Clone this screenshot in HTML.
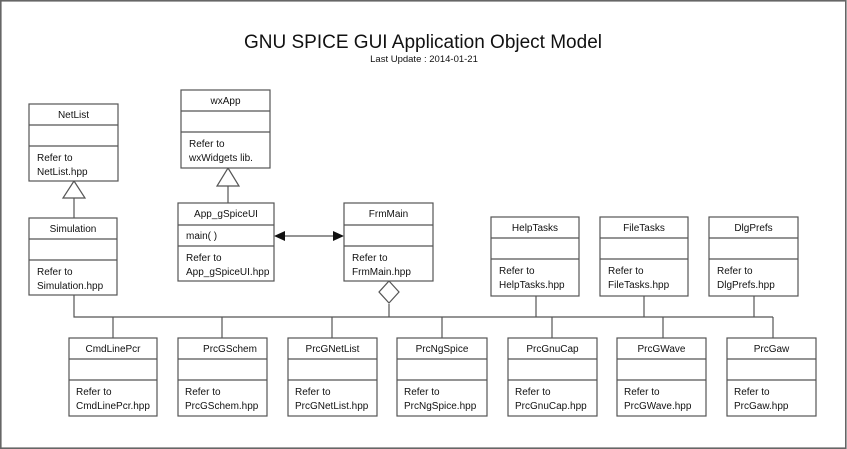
<!DOCTYPE html>
<html><head><meta charset="utf-8"><style>
html,body{margin:0;padding:0;background:#fff;}
svg{display:block;}
text{font-family:"Liberation Sans",sans-serif;font-size:10px;fill:#111;}
.b rect{fill:#fff;stroke:#555;stroke-width:1.2;}
.b line,.c{stroke:#555;stroke-width:1.2;fill:none;}
</style></head><body>
<svg width="847" height="449" viewBox="0 0 847 449" xmlns="http://www.w3.org/2000/svg">
<rect x="0.8" y="0.8" width="845" height="447.4" fill="#fff" stroke="#666" stroke-width="1.6"/>
<text x="423" y="48" text-anchor="middle" style="font-size:19px">GNU SPICE GUI Application Object Model</text>
<text x="424" y="62" text-anchor="middle" style="font-size:9.5px">Last Update : 2014-01-21</text>

<polyline class="c" points="74,295 74,317 773,317"/>
<line class="c" x1="389" y1="304" x2="389" y2="317"/>
<line class="c" x1="536" y1="296" x2="536" y2="317"/>
<line class="c" x1="644" y1="296" x2="644" y2="317"/>
<line class="c" x1="754" y1="296" x2="754" y2="317"/>
<line class="c" x1="113" y1="317" x2="113" y2="338"/>
<line class="c" x1="222" y1="317" x2="222" y2="338"/>
<line class="c" x1="332" y1="317" x2="332" y2="338"/>
<line class="c" x1="442" y1="317" x2="442" y2="338"/>
<line class="c" x1="552" y1="317" x2="552" y2="338"/>
<line class="c" x1="663" y1="317" x2="663" y2="338"/>
<line class="c" x1="773" y1="317" x2="773" y2="338"/>
<polygon class="c" points="389,281 399,292 389,303 379,292" fill="#fff"/>
<line class="c" x1="74" y1="198" x2="74" y2="218"/>
<polygon class="c" points="74,181 85,198 63,198" fill="#fff"/>
<line class="c" x1="228" y1="186" x2="228" y2="203"/>
<polygon class="c" points="228,168 239,186 217,186" fill="#fff"/>
<line class="c" x1="280" y1="236" x2="338" y2="236"/>
<polygon points="274,236 285,231 285,241" fill="#111"/>
<polygon points="344,236 333,231 333,241" fill="#111"/>

<g class="b" transform="translate(29,104)"><rect width="89" height="77"/><line x1="0" y1="21" x2="89" y2="21"/><line x1="0" y1="42" x2="89" y2="42"/><text x="44.5" y="14" text-anchor="middle">NetList</text><text x="8" y="57">Refer to</text><text x="8" y="71">NetList.hpp</text></g>
<g class="b" transform="translate(181,90)"><rect width="89" height="78"/><line x1="0" y1="21" x2="89" y2="21"/><line x1="0" y1="42" x2="89" y2="42"/><text x="44.5" y="14" text-anchor="middle">wxApp</text><text x="8" y="57">Refer to</text><text x="8" y="71">wxWidgets lib.</text></g>
<g class="b" transform="translate(29,218)"><rect width="88" height="77"/><line x1="0" y1="21" x2="88" y2="21"/><line x1="0" y1="42" x2="88" y2="42"/><text x="44" y="14" text-anchor="middle">Simulation</text><text x="8" y="57">Refer to</text><text x="8" y="71">Simulation.hpp</text></g>
<g class="b" transform="translate(178,203)"><rect width="96" height="78"/><line x1="0" y1="22" x2="96" y2="22"/><line x1="0" y1="43" x2="96" y2="43"/><text x="48" y="14" text-anchor="middle">App_gSpiceUI</text><text x="8" y="36">main( )</text><text x="8" y="58">Refer to</text><text x="8" y="72">App_gSpiceUI.hpp</text></g>
<g class="b" transform="translate(344,203)"><rect width="89" height="78"/><line x1="0" y1="22" x2="89" y2="22"/><line x1="0" y1="43" x2="89" y2="43"/><text x="44.5" y="14" text-anchor="middle">FrmMain</text><text x="8" y="58">Refer to</text><text x="8" y="72">FrmMain.hpp</text></g>
<g class="b" transform="translate(491,217)"><rect width="88" height="79"/><line x1="0" y1="21" x2="88" y2="21"/><line x1="0" y1="42" x2="88" y2="42"/><text x="44" y="14" text-anchor="middle">HelpTasks</text><text x="8" y="57">Refer to</text><text x="8" y="71">HelpTasks.hpp</text></g>
<g class="b" transform="translate(600,217)"><rect width="88" height="79"/><line x1="0" y1="21" x2="88" y2="21"/><line x1="0" y1="42" x2="88" y2="42"/><text x="44" y="14" text-anchor="middle">FileTasks</text><text x="8" y="57">Refer to</text><text x="8" y="71">FileTasks.hpp</text></g>
<g class="b" transform="translate(709,217)"><rect width="89" height="79"/><line x1="0" y1="21" x2="89" y2="21"/><line x1="0" y1="42" x2="89" y2="42"/><text x="44.5" y="14" text-anchor="middle">DlgPrefs</text><text x="8" y="57">Refer to</text><text x="8" y="71">DlgPrefs.hpp</text></g>

<g class="b" transform="translate(69,338)"><rect width="88" height="78"/><line x1="0" y1="21" x2="88" y2="21"/><line x1="0" y1="42" x2="88" y2="42"/><text x="44" y="14" text-anchor="middle">CmdLinePcr</text><text x="7" y="57">Refer to</text><text x="7" y="71">CmdLinePcr.hpp</text></g>
<g class="b" transform="translate(178,338)"><rect width="89" height="78"/><line x1="0" y1="21" x2="89" y2="21"/><line x1="0" y1="42" x2="89" y2="42"/><text x="52" y="14" text-anchor="middle">PrcGSchem</text><text x="7" y="57">Refer to</text><text x="7" y="71">PrcGSchem.hpp</text></g>
<g class="b" transform="translate(288,338)"><rect width="89" height="78"/><line x1="0" y1="21" x2="89" y2="21"/><line x1="0" y1="42" x2="89" y2="42"/><text x="44.5" y="14" text-anchor="middle">PrcGNetList</text><text x="7" y="57">Refer to</text><text x="7" y="71">PrcGNetList.hpp</text></g>
<g class="b" transform="translate(397,338)"><rect width="90" height="78"/><line x1="0" y1="21" x2="90" y2="21"/><line x1="0" y1="42" x2="90" y2="42"/><text x="45" y="14" text-anchor="middle">PrcNgSpice</text><text x="7" y="57">Refer to</text><text x="7" y="71">PrcNgSpice.hpp</text></g>
<g class="b" transform="translate(508,338)"><rect width="89" height="78"/><line x1="0" y1="21" x2="89" y2="21"/><line x1="0" y1="42" x2="89" y2="42"/><text x="44.5" y="14" text-anchor="middle">PrcGnuCap</text><text x="7" y="57">Refer to</text><text x="7" y="71">PrcGnuCap.hpp</text></g>
<g class="b" transform="translate(617,338)"><rect width="89" height="78"/><line x1="0" y1="21" x2="89" y2="21"/><line x1="0" y1="42" x2="89" y2="42"/><text x="44.5" y="14" text-anchor="middle">PrcGWave</text><text x="7" y="57">Refer to</text><text x="7" y="71">PrcGWave.hpp</text></g>
<g class="b" transform="translate(727,338)"><rect width="89" height="78"/><line x1="0" y1="21" x2="89" y2="21"/><line x1="0" y1="42" x2="89" y2="42"/><text x="44.5" y="14" text-anchor="middle">PrcGaw</text><text x="7" y="57">Refer to</text><text x="7" y="71">PrcGaw.hpp</text></g>
</svg>
</body></html>
